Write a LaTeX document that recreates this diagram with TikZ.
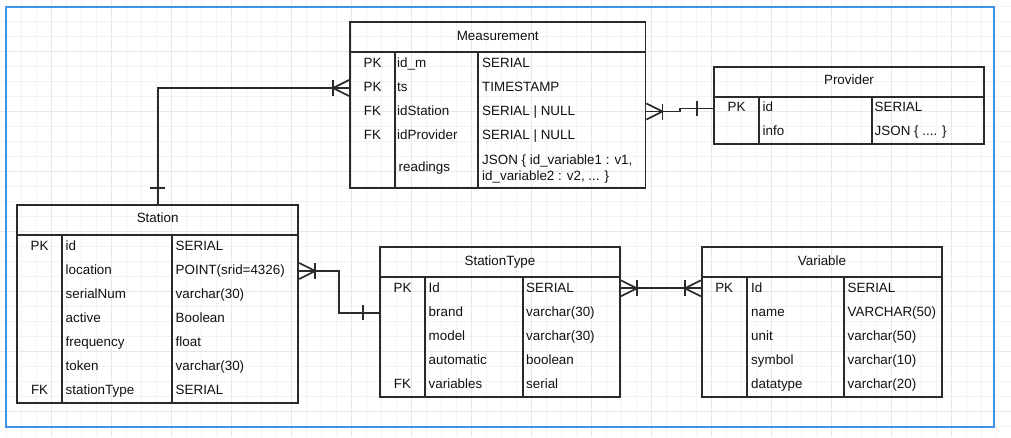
\documentclass[tikz,border=0pt]{standalone}
\usepackage{fontspec}
\setmainfont{Liberation Sans}
\usetikzlibrary{fit,calc}
\definecolor{gridminor}{HTML}{F3F3F3}
\definecolor{gridmajor}{HTML}{E8E8E8}
\definecolor{frameblue}{HTML}{3D95E6}
\definecolor{ink}{HTML}{2A2A2A}
\definecolor{txt}{HTML}{111111}
\newcommand\ertable[8]{% name, L, T, R, B, H, D1, D2
  \node[tbox, fit={(#2,#3) (#4,#5)}] (#1) {};
  \draw[tline] (#2,#6) -- (#4,#6);
  \draw[tline] (#7,#6) -- (#7,#5);
  \draw[tline] (#8,#6) -- (#8,#5);
}
\newcommand\crowfoot[2]{% point, direction (+1 right / -1 left)
  \draw[conn] ([yshift=8pt]#1) -- ([xshift=#2*16pt]#1) -- ([yshift=-8pt]#1);
  \draw[conn] ([xshift=#2*16pt,yshift=8pt]#1) -- ([xshift=#2*16pt,yshift=-8pt]#1);
}
\newcommand\onebar[2]{% point, direction
  \draw[conn] ([xshift=#2*16pt,yshift=7.5pt]#1) -- ([xshift=#2*16pt,yshift=-7.5pt]#1);
}
\begin{document}
\begin{tikzpicture}[x=1pt,y=-1pt,
  tbox/.style={draw=ink, line width=1.8pt, inner sep=0pt},
  tline/.style={draw=ink, line width=1.8pt},
  conn/.style={draw=ink, line width=1.7pt},
  cell/.style={inner sep=0pt, text=txt, font=\fontsize{13.4}{16}\selectfont},
  minorgrid/.style={draw=gridminor, line width=0.8pt},
  majorgrid/.style={draw=gridmajor, line width=0.9pt}]
\useasboundingbox (0,0) rectangle (1011,437);
\fill[white] (0,0) rectangle (1011,437);
% grid
\foreach \x in {6,21,...,1011} \draw[minorgrid] (\x,0) -- (\x,437);
\foreach \y in {6.7,21.7,...,437} \draw[minorgrid] (0,\y) -- (1011,\y);
\foreach \x in {51,111,...,1011} \draw[majorgrid] (\x,0) -- (\x,437);
\foreach \y in {51.7,111.7,...,437} \draw[majorgrid] (0,\y) -- (1011,\y);
% frame
\draw[frameblue, line width=1.8pt] (6,7) rectangle (994,427);

% ---------------- Measurement
\ertable{meas}{350}{22}{645.5}{188}{52}{395}{477.7}
\node[cell, anchor=base] (meas-h) at (497.75,40.7) {Measurement};
\foreach \n/\t [count=\i] in {id\_m/SERIAL, ts/TIMESTAMP, idStation/SERIAL | NULL, idProvider/SERIAL | NULL}{
  \node[cell, anchor=base west] (meas-n\i) at (397,{67.3+24*(\i-1)}) {\n};
  \node[cell, anchor=base west] (meas-t\i) at (482,{67.3+24*(\i-1)}) {\t};
}
\node[cell, anchor=base] (meas-k1) at (372.5,67.3) {PK};
\node[cell, anchor=base] (meas-k2) at (372.5,91.3) {PK};
\node[cell, anchor=base] (meas-k3) at (372.5,115.3) {FK};
\node[cell, anchor=base] (meas-k4) at (372.5,139.3) {FK};
\node[cell, anchor=base west] (meas-n5) at (398.5,171) {readings};
\node[cell, anchor=base west] (meas-t5a) at (482,164.3) {JSON \{ id\_variable1 : v1,};
\node[cell, anchor=base west] (meas-t5b) at (482,180.3) {id\_variable2 : v2, ... \}};

% ---------------- Provider
\ertable{prov}{714}{66.7}{984}{144}{96.7}{759}{871.7}
\node[cell, anchor=base] (prov-h) at (849,84) {Provider};
\node[cell, anchor=base] (prov-k1) at (736.5,111) {PK};
\node[cell, anchor=base west] (prov-n1) at (762.5,111) {id};
\node[cell, anchor=base west] (prov-t1) at (874.5,111) {SERIAL};
\node[cell, anchor=base west] (prov-n2) at (762.5,135) {info};
\node[cell, anchor=base west] (prov-t2) at (874.5,135) {JSON \{ .... \}};

% ---------------- Station
\ertable{sta}{17}{204.7}{298.3}{403.3}{235}{62.3}{172.3}
\node[cell, anchor=base] (sta-h) at (157.65,222.7) {Station};
\foreach \n/\t [count=\i] in {id/SERIAL, location/POINT(srid=4326), serialNum/varchar(30), active/Boolean, frequency/float, token/varchar(30), stationType/SERIAL}{
  \node[cell, anchor=base west] (sta-n\i) at (65.5,{250.7+24*(\i-1)}) {\n};
  \node[cell, anchor=base west] (sta-t\i) at (175.5,{250.7+24*(\i-1)}) {\t};
}
\node[cell, anchor=base] (sta-k1) at (39.6,250.7) {PK};
\node[cell, anchor=base] (sta-k7) at (39.6,394.7) {FK};

% ---------------- StationType
\ertable{st}{380}{247.3}{620}{396.7}{276.7}{425}{522.7}
\node[cell, anchor=base] (st-h) at (500,265) {StationType};
\foreach \n/\t [count=\i] in {Id/SERIAL, brand/varchar(30), model/varchar(30), automatic/boolean, variables/serial}{
  \node[cell, anchor=base west] (st-n\i) at (428.5,{292.3+24*(\i-1)}) {\n};
  \node[cell, anchor=base west] (st-t\i) at (526,{292.3+24*(\i-1)}) {\t};
}
\node[cell, anchor=base] (st-k1) at (402.5,292.3) {PK};
\node[cell, anchor=base] (st-k5) at (402.5,388.3) {FK};

% ---------------- Variable
\ertable{var}{701.7}{246.7}{942.3}{397.3}{277.3}{746.7}{844.3}
\node[cell, anchor=base] (var-h) at (822,265) {Variable};
\foreach \n/\t [count=\i] in {Id/SERIAL, name/VARCHAR(50), unit/varchar(50), symbol/varchar(10), datatype/varchar(20)}{
  \node[cell, anchor=base west] (var-n\i) at (751,{292.3+24*(\i-1)}) {\n};
  \node[cell, anchor=base west] (var-t\i) at (847.5,{292.3+24*(\i-1)}) {\t};
}
\node[cell, anchor=base] (var-k1) at (724.2,292.3) {PK};

% ---------------- connectors
% Station -> Measurement
\coordinate (c1t) at ([yshift=17pt]meas.west);
\draw[conn] (sta.north) |- (c1t);
\crowfoot{c1t}{-1}
\draw[conn] ([yshift=16pt,xshift=-7.5pt]sta.north) -- ([yshift=16pt,xshift=7.5pt]sta.north);
% Measurement -> Provider
\coordinate (c2a) at ([yshift=-6.5pt]meas.east);
\coordinate (c2b) at ([yshift=-3pt]prov.west);
\draw[conn] (c2a) -| ($(c2a)!.5!(c2b)$) |- (c2b);
\crowfoot{c2a}{1}
\onebar{c2b}{-1}
% Station -> StationType
\coordinate (c3a) at ([yshift=33pt]sta.east);
\coordinate (c3b) at ([yshift=9.3pt]st.west);
\draw[conn] (c3a) -| ($(c3a)!.5!(c3b)$) |- (c3b);
\crowfoot{c3a}{1}
\onebar{c3b}{-1}
% StationType -> Variable
\coordinate (c4a) at ([yshift=33.7pt]st.east);
\coordinate (c4b) at ([yshift=33.7pt]var.west);
\draw[conn] (c4a) -- (c4b);
\crowfoot{c4a}{1}
\crowfoot{c4b}{-1}
\end{tikzpicture}
\end{document}
